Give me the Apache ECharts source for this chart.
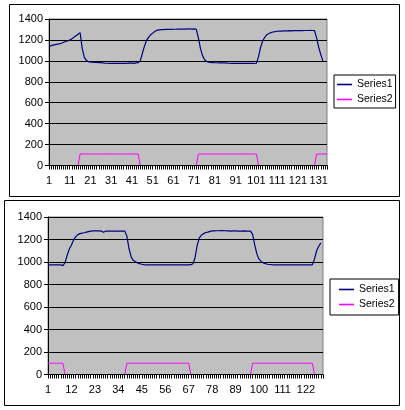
<!DOCTYPE html>
<html>
<head>
<meta charset="utf-8">
<script src="https://cdn.jsdelivr.net/npm/echarts@6/dist/echarts.min.js"></script>
<style>
html,body{margin:0;padding:0;background:#fff;}
#c{width:405px;height:410px;}
</style>
</head>
<body>
<div id="c"></div>
<script>
// ---------- Data ----------
var topSeries1 = [
1135,1145,1150,1155,1160,1162,1168,1178,1185,1190,
1200,1210,1225,1240,1255,1270,1120,1035,1005,992,
988,987,985,985,984,983,980,978,977,976,
976,975,975,975,976,975,975,976,978,980,
978,976,980,982,1000,1070,1140,1195,1225,1250,
1265,1280,1292,1296,1298,1298,1300,1300,1302,1300,
1302,1302,1303,1303,1304,1303,1304,1305,1305,1304,
1305,1302,1220,1120,1050,1010,995,988,985,983,
982,982,980,980,981,980,978,977,976,975,
975,975,975,976,975,975,975,976,975,975,
977,1040,1130,1190,1225,1250,1262,1270,1276,1280,
1283,1284,1285,1286,1286,1287,1288,1287,1288,1289,
1289,1290,1289,1290,1290,1290,1291,1290,1288,1220,
1130,1060,1000
];
var topSeries2 = [
0,0,0,0,0,0,0,0,0,0,0,0,0,0,0,
110,110,110,110,110,110,110,110,110,110,110,110,110,110,110,110,110,110,110,110,110,110,110,110,110,110,110,110,110,
0,0,0,0,0,0,0,0,0,0,0,0,0,0,0,0,0,0,0,0,0,0,0,0,0,0,0,0,
110,110,110,110,110,110,110,110,110,110,110,110,110,110,110,110,110,110,110,110,110,110,110,110,110,110,110,110,110,
0,0,0,0,0,0,0,0,0,0,0,0,0,0,0,0,0,0,0,0,0,0,0,0,0,0,0,0,
110,110,110,110,110,110
];
var botSeries1 = [
975,975,974,974,975,975,974,968,995,1060,
1115,1152,1195,1225,1243,1252,1256,1260,1265,1270,
1275,1277,1277,1276,1276,1275,1265,1274,1275,1275,
1275,1275,1275,1275,1275,1275,1275,1230,1120,1045,
1015,1002,992,985,980,977,975,975,975,975,
975,975,975,975,975,975,975,975,975,975,
975,975,975,975,975,975,975,976,985,1040,
1150,1215,1240,1252,1262,1266,1272,1276,1277,1278,
1278,1280,1279,1278,1276,1276,1275,1277,1276,1275,
1275,1275,1276,1275,1275,1275,1245,1150,1070,1025,
1005,992,985,980,978,976,975,975,975,975,
975,975,975,975,975,975,975,975,975,975,
975,975,975,975,975,1025,1100,1140,1170
];
var botSeries2 = [
100,100,100,100,100,100,100,100,
0,0,0,0,0,0,0,0,0,0,0,0,0,0,0,0,0,0,0,0,0,0,0,0,0,0,0,0,0,
100,100,100,100,100,100,100,100,100,100,100,100,100,100,100,100,100,100,100,100,100,100,100,100,100,100,100,100,100,100,
0,0,0,0,0,0,0,0,0,0,0,0,0,0,0,0,0,0,0,0,0,0,0,0,0,0,0,0,0,
100,100,100,100,100,100,100,100,100,100,100,100,100,100,100,100,100,100,100,100,100,100,100,100,100,100,100,100,100,
0,0,0,0,0
];
var topCategoryCount = 135;
var botCategoryCount = 130;
var topCategories = [];
for (var i = 1; i <= topCategoryCount; i++) topCategories.push(String(i));
var botCategories = [];
for (var j = 1; j <= botCategoryCount; j++) botCategories.push(String(j));
var yTicks = { min: 0, max: 1400, step: 200 };
var seriesNames = ['Series1', 'Series2'];

// ---------- Chart ----------
var FONT = 'Arial, "Liberation Sans", sans-serif';
var chart = echarts.init(document.getElementById('c'), null, { renderer: 'canvas' });

function xAx(gi, cats, labelInterval) {
  return {
    type: 'category', gridIndex: gi, data: cats, boundaryGap: false, z: 5,
    axisLine: { show: true, lineStyle: { color: '#000', width: 1 } },
    axisTick: { show: true, interval: 0, length: 4, lineStyle: { color: '#000', width: 1 } },
    axisLabel: { interval: labelInterval, color: '#000', fontSize: 11, fontFamily: FONT, margin: 10 },
    splitLine: { show: false }
  };
}
function yAx(gi) {
  return {
    type: 'value', gridIndex: gi, min: yTicks.min, max: yTicks.max, interval: yTicks.step,
    axisLine: { show: true, lineStyle: { color: '#000', width: 1 } },
    axisTick: { show: true, length: 4, lineStyle: { color: '#000' } },
    axisLabel: { color: '#000', fontSize: 11, fontFamily: FONT, margin: 6,
      formatter: function (v) { return String(v); } },
    splitLine: { show: true, lineStyle: { color: '#000', width: 1 } }
  };
}
function legend(left, top, padding) {
  return {
    data: seriesNames, orient: 'vertical', left: left, top: top,
    padding: padding, itemGap: 4, itemWidth: 15, itemHeight: 12,
    icon: 'path://M0,0H15V1.6H0Z', symbolKeepAspect: true,
    borderColor: '#000', borderWidth: 1, backgroundColor: '#fff',
    selectedMode: false,
    textStyle: { color: '#000', fontSize: 10.5, fontFamily: FONT }
  };
}

chart.setOption({
  animation: false,
  backgroundColor: '#fff',
  graphic: [
    { type: 'rect', shape: { x: 9.5, y: 4.5, width: 390, height: 192 }, style: { fill: 'none', stroke: '#000', lineWidth: 1 }, z: -1 },
    { type: 'rect', shape: { x: 4.5, y: 200.5, width: 395, height: 205 }, style: { fill: 'none', stroke: '#000', lineWidth: 1 }, z: -1 }
  ],
  grid: [
    { left: 49, top: 19, width: 278, height: 146.5, show: true, backgroundColor: '#C0C0C0', borderColor: '#808080', borderWidth: 1 },
    { left: 48, top: 217, width: 275, height: 157.5, show: true, backgroundColor: '#C0C0C0', borderColor: '#808080', borderWidth: 1 }
  ],
  legend: [
    legend(334, 75, [4, 3, 3, 3]),
    legend(330, 279, [5, 4, 5, 9])
  ],
  xAxis: [xAx(0, topCategories, 9), xAx(1, botCategories, 10)],
  yAxis: [yAx(0), yAx(1)],
  series: [
    { name: 'Series1', type: 'line', z: 2, xAxisIndex: 0, yAxisIndex: 0, data: topSeries1, symbol: 'none', color: '#000080', lineStyle: { color: '#000080', width: 1.2 } },
    { name: 'Series2', type: 'line', z: 1, xAxisIndex: 0, yAxisIndex: 0, data: topSeries2, symbol: 'none', color: '#FF00FF', lineStyle: { color: '#FF00FF', width: 1 } },
    { name: 'Series1', type: 'line', z: 2, xAxisIndex: 1, yAxisIndex: 1, data: botSeries1, symbol: 'none', color: '#000080', lineStyle: { color: '#000080', width: 1.2 } },
    { name: 'Series2', type: 'line', z: 1, xAxisIndex: 1, yAxisIndex: 1, data: botSeries2, symbol: 'none', color: '#FF00FF', lineStyle: { color: '#FF00FF', width: 1 } }
  ]
});
</script>
</body>
</html>
